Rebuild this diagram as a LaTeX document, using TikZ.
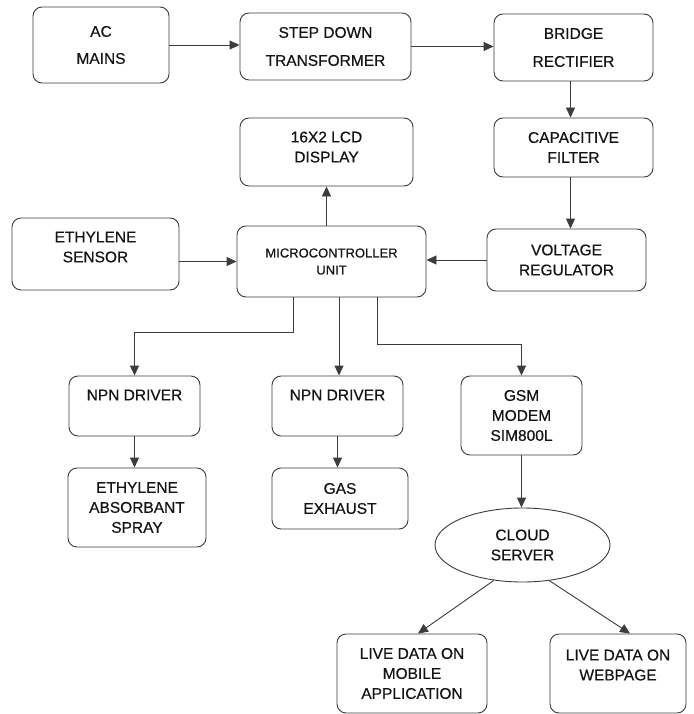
\documentclass[tikz,border=0pt]{standalone}
\usepackage{fontspec}
\setmainfont{Liberation Sans}[BoldFont={Liberation Sans}, BoldFeatures={FakeBold=0.45}]
\usetikzlibrary{arrows.meta,positioning,shapes.geometric}
\definecolor{lineGray}{RGB}{60,60,60}
\definecolor{txtDark}{RGB}{20,20,20}

\begin{document}
\begin{tikzpicture}[x=1pt,y=-1pt,
    blockbox/.style={draw=lineGray, line width=0.9pt, rounded corners=9pt, align=center,
      inner sep=0pt, text=txtDark, font=\fontsize{15.5}{20}\selectfont\bfseries},
    cloudbox/.style={ellipse, draw=lineGray, line width=0.9pt, align=center,
      inner sep=0pt, text=txtDark, font=\fontsize{15.5}{20}\selectfont\bfseries},
    arr/.style={draw=lineGray, line width=0.9pt, -{Triangle[length=10pt,width=9pt]}}]
    \useasboundingbox (0,0) rectangle (693,714);

    % Power supply chain
    \node[blockbox, minimum width=136pt, minimum height=76pt] (mains) at (101,45) {AC\\[7pt]MAINS};
    \node[blockbox, minimum width=171pt, minimum height=67pt] (stepdown) at (325.5,46.5) {STEP DOWN\\[8pt]TRANSFORMER};
    \node[blockbox, minimum width=159pt, minimum height=67pt] (bridge) at (573.5,47.5) {BRIDGE\\[8pt]RECTIFIER};
    \node[blockbox, minimum width=159pt, minimum height=59pt] (capfilter) at (573.5,147.5) {CAPACITIVE\\FILTER};
    \node[blockbox, minimum width=159pt, minimum height=62pt] (regulator) at (566.5,260) {VOLTAGE\\REGULATOR};

    % Controller with display and sensor
    \node[blockbox, minimum width=173pt, minimum height=68pt, text depth=10pt] (lcd) at (326.5,152) {16X2 LCD\\DISPLAY};
    \node[blockbox, minimum width=189pt, minimum height=71pt, font=\fontsize{13}{17}\selectfont\bfseries] (mcu) at (331.5,261.5) {MICROCONTROLLER\\UNIT};
    \node[blockbox, minimum width=167pt, minimum height=72pt, text depth=14pt] (sensor) at (95.5,254) {ETHYLENE\\SENSOR};

    % Outputs
    \node[blockbox, minimum width=131pt, minimum height=60pt, text depth=22pt] (driverA) at (134.5,406) {NPN DRIVER};
    \node[blockbox, minimum width=138pt, minimum height=79pt] (spray) at (137,507.5) {ETHYLENE\\ABSORBANT\\SPRAY};
    \node[blockbox, minimum width=131pt, minimum height=60pt, text depth=22pt] (driverB) at (337.5,406) {NPN DRIVER};
    \node[blockbox, minimum width=136pt, minimum height=61pt] (exhaust) at (340,498.5) {GAS\\EXHAUST};
    \node[blockbox, minimum width=121pt, minimum height=79pt] (gsm) at (521.5,415.5) {GSM\\MODEM\\SIM800L};

    % Cloud side
    \node[cloudbox, minimum width=175pt, minimum height=74pt] (cloud) at (522.5,545) {CLOUD\\SERVER};
    \node[blockbox, minimum width=150pt, minimum height=79pt] (mobile) at (412,673.5) {LIVE DATA ON\\MOBILE\\APPLICATION};
    \node[blockbox, minimum width=136pt, minimum height=79pt, text depth=17pt] (webpage) at (618,673.5) {LIVE DATA ON\\WEBPAGE};

    % Bends under the controller
    \coordinate (bendA) at (293,332);
    \coordinate (bendC) at (377,344);

    % Arrows
    \draw[arr] (mains.east) -- (mains.east -| stepdown.west);
    \draw[arr] (stepdown.east) -- (stepdown.east -| bridge.west);
    \draw[arr] ([xshift=-3pt]bridge.south) -- ([xshift=-3pt]capfilter.north);
    \draw[arr] ([xshift=-3pt]capfilter.south) -- ([xshift=-3pt]capfilter.south |- regulator.north);
    \draw[arr] (regulator.west) -- (regulator.west -| mcu.east);
    \draw[arr] (sensor.east |- mcu.west) -- (mcu.west);
    \draw[arr] (lcd.south |- mcu.north) -- (lcd.south);
    \draw[arr] (mcu.south -| bendA) -- (bendA) -| (driverA.north);
    \draw[arr] ([xshift=1.5pt]driverB.north |- mcu.south) -- ([xshift=1.5pt]driverB.north);
    \draw[arr] (mcu.south -| bendC) -- (bendC) -| (gsm.north);
    \draw[arr] (driverA.south) -- (driverA.south |- spray.north);
    \draw[arr] (driverB.south) -- (driverB.south |- exhaust.north);
    \draw[arr] (gsm.south) -- (gsm.south |- cloud.north);
    \draw[arr] (cloud.231) -- ([xshift=6pt]mobile.north);
    \draw[arr] (cloud.307) -- ([xshift=12pt]webpage.north);
\end{tikzpicture}
\end{document}
